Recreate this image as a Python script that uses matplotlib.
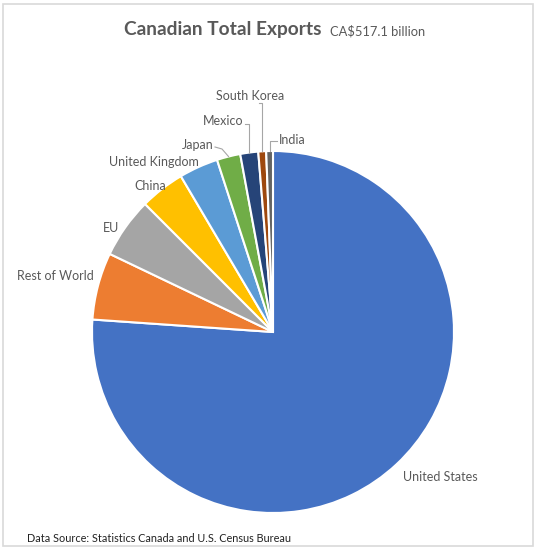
import matplotlib.pyplot as plt
import numpy as np
from matplotlib.patches import Rectangle

countries = ["United States", "Rest of World", "EU", "China", "United Kingdom",
             "Japan", "Mexico", "South Korea", "India"]
shares = [76.1, 6.0, 5.4, 4.0, 3.5, 2.1, 1.6, 0.7, 0.6]
colors = ["#4472C4", "#ED7D31", "#A5A5A5", "#FFC000", "#5B9BD5",
          "#70AD47", "#264478", "#9E480E", "#636363"]

W, H = 543, 555
fig = plt.figure(figsize=(W / 100, H / 100), dpi=100)
ax = fig.add_axes([0, 0, 1, 1])

# pixel helpers (y measured from top)
def py(y):
    return H - y

cx, cy, r = 273, py(332), 181
wedges, _ = ax.pie(shares, colors=colors, startangle=90, counterclock=False,
                   center=(cx, cy), radius=r, frame=True,
                   wedgeprops=dict(edgecolor="white", linewidth=1.5))
ax.set_xlim(0, W)
ax.set_ylim(0, H)
ax.set_aspect("equal")
ax.axis("off")

ax.add_patch(Rectangle((3, py(546)), 530, 542, fill=False, edgecolor="#d9d9d9", lw=1.2))

txt = "#595959"
fam = ["Lato", "DejaVu Sans"]
ax.text(124, py(30), "Canadian Total Exports", fontsize=13.8, fontweight="bold",
        color=txt, family=fam, va="center", ha="left")
ax.text(330, py(31), "CA$517.1 billion", fontsize=9.3, color=txt, family=fam,
        va="center", ha="left")
ax.text(27, py(538), "Data Source: Statistics Canada and U.S. Census Bureau",
        fontsize=7.8, color="#222222", family=fam, va="center", ha="left")

# label positions (pixel coords, y from top)
label_pos = {
    "United States": (403, 477, "left"),
    "Rest of World": (94, 276, "right"),
    "EU": (119, 228, "right"),
    "China": (166, 186, "right"),
    "United Kingdom": (199, 162, "right"),
    "Japan": (214, 145, "right"),
    "Mexico": (243, 121, "right"),
    "South Korea": (250, 96, "center"),
    "India": (279, 140, "left"),
}
for name in countries:
    x, y, ha = label_pos[name]
    ax.text(x, py(y), name, fontsize=9, color=txt, family=fam, ha=ha, va="center")

# leader lines for small slices
def edge_point(w):
    ang = np.deg2rad((w.theta1 + w.theta2) / 2)
    return cx + r * np.cos(ang), cy + r * np.sin(ang)

leaders = {
    "Japan": [(215, 147), (222, 149)],
    "Mexico": [(245, 124), (249, 124)],
    "South Korea": [(259, 103)],
    "India": [(277, 141), (271, 141)],
}
for name, w in zip(countries, wedges):
    if name in leaders:
        ex, ey = edge_point(w)
        pts = [(x, py(y)) for x, y in leaders[name]]
        if name in ("Mexico", "South Korea", "India"):
            pts.append((ex, pts[-1][1]))
        pts.append((ex, ey))
        xs, ys = zip(*pts)
        ax.plot(xs, ys, color="#a6a6a6", lw=0.8)

fig.savefig("out.png", dpi=100, facecolor="white")
